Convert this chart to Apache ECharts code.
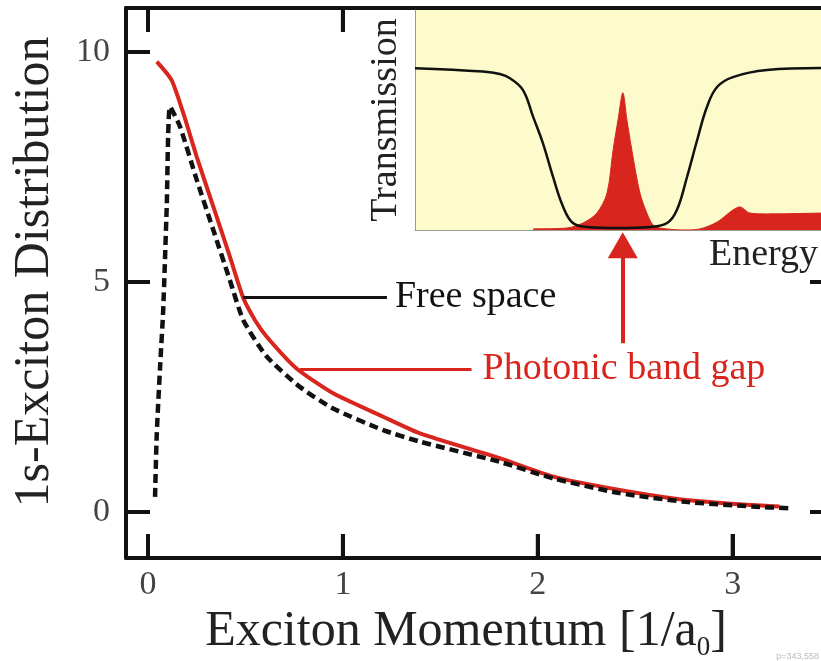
<!DOCTYPE html>
<html><head><meta charset="utf-8">
<script src="https://cdn.jsdelivr.net/npm/echarts@6/dist/echarts.min.js"></script>
<style>html,body{margin:0;padding:0;background:#fff}#c{width:821px;height:661px}#dbg{position:absolute;right:2px;bottom:0;font:9px sans-serif;color:#bbb;max-width:400px;white-space:nowrap;overflow:hidden}</style>
</head><body><div id="c"></div><div id="dbg"></div><script>
const dbg = [];
window.onerror = function(m){ dbg.push('ERR:' + m); document.getElementById('dbg').textContent = dbg.join(' | '); };
// Main panel: 1s-exciton distribution vs momentum
const momentumPBG = [0.045,0.121,0.181,0.25,0.335,0.42,0.489,0.549,0.609,0.762,0.95,1.207,1.395,1.805,2.08,2.42,2.76,3.10,3.24];
const distPBG     = [9.79, 9.39, 8.67, 7.72,6.64, 5.55,4.65, 4.17, 3.81, 3.12, 2.58,2.07, 1.71, 1.17, 0.77,0.48,0.26,0.15,0.12];
const momentumFree = [0.036,0.045,0.062,0.078,0.096,0.113,0.164,0.25,0.335,0.42,0.489,0.609,0.779,0.95,1.207,1.395,1.805,2.08,2.42,2.76,3.10,3.29];
const distFree     = [0.33, 1.71, 3.16, 4.4,  6.64, 8.81, 8.38, 7.22,6.13, 5.04,4.17, 3.38, 2.72, 2.25,1.78, 1.53, 1.09, 0.73,0.41,0.22,0.12,0.08];
const xTicks = [0,1,2,3];
const yTicks = [0,5,10];
// Inset: transmission spectrum and emission
const energyT = [0,16.7,20.9,23.4,26.6,29.1,31.5,34.0,36.5,38.9,42.4,49.8,57.9,62.1,64.5,67.0,69.5,71.9,74.4,78.3,86.7,100];
const transmission = [73.5,72.0,70.9,69.0,63.6,51.4,39.5,24.1,10.5,3.2,1.4,0.9,1.4,3.2,9.1,24.1,40.9,55.9,65.0,69.5,72.7,73.6];
const energyE = [29.1,37.4,41.4,44.8,47.3,48.8,50.0,51.2,52.2,53.4,55.4,57.1,58.6,60.3,66.0,70.2,74.4,78.3,80.0,82.5,86.7,100];
const emission = [0.5,0.9,3.2,7.7,16.8,36.4,50,62.4,50,36.4,16.8,7.7,2.3,0.9,0,0.5,3.6,9.1,10.5,7.7,7.3,7.7];

const FONT = "'Liberation Serif','Times New Roman',serif";
const RED = '#d8251d';
const pairs = (xs, ys) => xs.map((x, i) => [x, ys[i]]);

const X_MIN = -0.113, X_MAX = 3.52, Y_MIN = -1, Y_MAX = 10.957;
const GRID_W = 708, GRID_H = 550, TICK_PX = 24;

// tick specs for a custom series: [value, side]; side 0 bottom,1 top,2 left,3 right
const tickSpecs = [].concat(
  xTicks.map(v => [v, 0]), xTicks.map(v => [v, 1]),
  yTicks.map(v => [v, 2]), yTicks.map(v => [v, 3]));

const frameLine = () => ({show:true, onZero:false, lineStyle:{color:'#111', width:4}});
const tickIn = vals => ({show:true, inside:true, length:TICK_PX, customValues:vals.slice(), lineStyle:{color:'#111', width:4}});

const chart = echarts.init(document.getElementById('c'));
try {
chart.setOption({
  animation:false,
  grid:[
    {left:126, top:8, width:GRID_W, height:GRID_H, outerBoundsMode:'none', containLabel:false},
    {left:415, top:10, width:406, height:220, outerBoundsMode:'none', containLabel:false, show:true, backgroundColor:'#fdfbcb', borderWidth:0, z:10}
  ],
  xAxis:[
    {type:'value', gridIndex:0, position:'bottom', min:X_MIN, max:X_MAX,
     axisLine:frameLine(), axisTick:tickIn(xTicks), splitLine:{show:false},
     axisLabel:{customValues:xTicks.slice(), fontSize:34, color:'#444', fontFamily:FONT, margin:10},
     name:'{a|Exciton Momentum [1/a}{b|0}{a|]}', nameLocation:'middle', nameGap:29,
     nameTextStyle:{padding:[0,28,0,0], rich:{
       a:{fontSize:50, lineHeight:60, fontFamily:FONT, color:'#222'},
       b:{fontSize:27, lineHeight:27, fontFamily:FONT, color:'#222', verticalAlign:'bottom'}}}},
    {type:'value', gridIndex:0, position:'top', min:X_MIN, max:X_MAX,
     axisLine:frameLine(), axisTick:tickIn(xTicks), axisLabel:{show:false}, splitLine:{show:false}},
    {type:'value', gridIndex:1, min:0, max:100, z:11,
     axisLine:{show:true, onZero:false, lineStyle:{color:'#999', width:1}}, axisTick:{show:false}, axisLabel:{show:false}, splitLine:{show:false},
     name:'Energy', nameLocation:'end', nameGap:-3,
     nameTextStyle:{align:'right', verticalAlign:'top', padding:[6,0,0,0], fontSize:38, fontFamily:FONT, color:'#222'}}
  ],
  yAxis:[
    {type:'value', gridIndex:0, position:'left', min:Y_MIN, max:Y_MAX,
     axisLine:frameLine(), axisTick:tickIn(yTicks), splitLine:{show:false},
     axisLabel:{customValues:yTicks.slice(), fontSize:34, color:'#444', fontFamily:FONT, margin:16},
     name:'1s-Exciton Distribution', nameLocation:'middle', nameGap:66,
     nameTextStyle:{fontSize:50, fontFamily:FONT, color:'#222', padding:[0,0,0,22]}},
    {type:'value', gridIndex:0, position:'right', min:Y_MIN, max:Y_MAX,
     axisLine:frameLine(), axisTick:tickIn(yTicks), axisLabel:{show:false}, splitLine:{show:false}},
    {type:'value', gridIndex:1, min:0, max:100, z:11,
     axisLine:{show:true, onZero:false, lineStyle:{color:'#999', width:1}}, axisTick:{show:false}, axisLabel:{show:false}, splitLine:{show:false},
     name:'Transmission', nameLocation:'middle', nameGap:10,
     nameTextStyle:{fontSize:38, fontFamily:FONT, color:'#222'}}
  ],
  series:[
    {name:'Frame ticks', type:'custom', xAxisIndex:0, yAxisIndex:0, z:1, clip:false, silent:true,
     data:tickSpecs,
     renderItem:(params, api) => {
       const v = api.value(0), side = api.value(1);
       let p, d;
       if (side === 0) { p = api.coord([v, Y_MIN]); d = [0, -TICK_PX]; }
       else if (side === 1) { p = api.coord([v, Y_MAX]); d = [0, TICK_PX]; }
       else if (side === 2) { p = api.coord([X_MIN, v]); d = [TICK_PX, 0]; }
       else { p = api.coord([X_MAX, v]); d = [-TICK_PX, 0]; }
       return {type:'line', shape:{x1:p[0], y1:p[1], x2:p[0] + d[0], y2:p[1] + d[1]},
               style:{stroke:'#111', lineWidth:4}};
     }},
    {name:'Photonic band gap', type:'line', xAxisIndex:0, yAxisIndex:0, data:pairs(momentumPBG, distPBG),
     showSymbol:false, smooth:0.2, lineStyle:{color:RED, width:4}, z:2,
     markLine:{silent:true, symbol:'none', animation:false, data:[
       [{coord:[0.487,4.67], lineStyle:{color:'#111', width:3, type:'solid'},
         label:{show:true, position:'end', distance:8, formatter:'Free space', fontSize:38, fontFamily:FONT, color:'#111'}},
        {coord:[1.226,4.67]}],
       [{coord:[0.78,3.11], lineStyle:{color:RED, width:3, type:'solid'},
         label:{show:true, position:'end', distance:11, formatter:'Photonic band gap', fontSize:38, fontFamily:FONT, color:RED}},
        {coord:[1.66,3.11]}],
       [{coord:[2.436,3.67], symbol:'none', lineStyle:{color:RED, width:4, type:'solid'}, itemStyle:{color:RED}, label:{show:false}},
        {coord:[2.436,5.80], symbol:'triangle', symbolSize:[30,26], itemStyle:{color:RED}}]
     ]}},
    {name:'Free space', type:'line', xAxisIndex:0, yAxisIndex:0, data:pairs(momentumFree, distFree),
     showSymbol:false, smooth:0.2, lineStyle:{color:'#111', width:4.5, type:[9,5]}, z:3},
    {name:'Emission', type:'line', xAxisIndex:2, yAxisIndex:2, data:pairs(energyE, emission),
     showSymbol:false, smooth:0.3, lineStyle:{color:RED, width:1}, areaStyle:{color:RED, opacity:1}, z:12},
    {name:'Transmission', type:'line', xAxisIndex:2, yAxisIndex:2, data:pairs(energyT, transmission),
     showSymbol:false, smooth:0.4, lineStyle:{color:'#111', width:2.5}, z:13}
  ]
});
} catch (e) { dbg.push('SET:' + e.message); }
try {
  const p0 = chart.convertToPixel({xAxisIndex:0, yAxisIndex:0}, [1, Y_MIN]);
  dbg.push('p=' + (p0 ? p0.map(n => Math.round(n)).join(',') : 'null'));
} catch (e) { dbg.push('CV:' + e.message); }
document.getElementById('dbg').textContent = dbg.join(' | ');
</script></body></html>
